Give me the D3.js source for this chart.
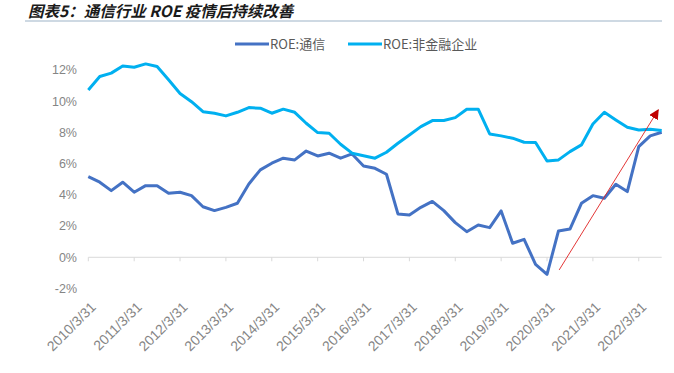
<!DOCTYPE html>
<html>
<head>
<meta charset="utf-8">
<script src="https://cdn.jsdelivr.net/npm/d3@7"></script>
<style>
  body { margin: 0; background: #fff; }
  .ylab text, .xlab text { fill: #858585; font-family: "Liberation Sans", Arial, sans-serif; }
</style>
</head>
<body>
<div id="chart"></div>
<script>
// quarterly ROE, 2010Q1 ~ 2022Q3 (%)
const quarters = [];
for (let y = 2010; y <= 2022; y++) {
  ["3/31","6/30","9/30","12/31"].forEach((q)=>{ quarters.push(y + "/" + q); });
}
quarters.length = 51;

const roeTelecom = [5.17,4.81,4.27,4.81,4.17,4.59,4.59,4.10,4.17,3.95,3.24,2.99,3.20,3.46,4.70,5.60,
  6.03,6.35,6.24,6.81,6.49,6.67,6.35,6.62,5.85,5.70,5.32,2.78,2.71,3.20,3.58,2.99,
  2.22,1.64,2.07,1.90,2.97,0.90,1.15,-0.45,-1.09,1.69,1.81,3.46,3.95,3.78,4.68,4.21,
  7.09,7.78,8.01];
const roeNonFin = [10.72,11.58,11.80,12.26,12.18,12.39,12.22,11.37,10.50,9.97,9.33,9.23,9.06,9.29,9.59,9.55,
  9.23,9.49,9.29,8.59,7.99,7.95,7.24,6.67,6.51,6.35,6.73,7.31,7.84,8.37,8.76,8.76,
  8.95,9.49,9.49,7.90,7.78,7.63,7.37,7.35,6.17,6.24,6.77,7.20,8.54,9.29,8.80,8.33,
  8.16,8.20,8.12];
const yTicks = [-2,0,2,4,6,8,10,12];
const seriesNames = ["ROE:通信","ROE:非金融企业"];
const seriesColors = ["#4472c4","#00b0f0"];
// trend arrow in data units: [category index, ROE %]
const arrowFrom = [41.06,-0.81], arrowTo = [49.7,9.44];

const W = 674, H = 373;
const svg = d3.select("#chart").append("svg").attr("width",W).attr("height",H);

// title
svg.append("text").attr("x",28).attr("y",17)
  .attr("font-family","'Noto Sans CJK SC', sans-serif").attr("font-size",15.5)
  .attr("font-weight","bold").attr("font-style","italic").attr("fill","#1a1a1a")
  .text("图表5：通信行业 ROE 疫情后持续改善");
svg.append("line").attr("x1",25).attr("x2",662).attr("y1",21).attr("y2",21)
  .attr("stroke","#9db3c8").attr("stroke-width",1.2);

const x = d3.scaleLinear().domain([0,quarters.length-1]).range([88.3,661.7]);
const y = d3.scaleLinear().domain([-2,12]).range([288.5,70]);

// y labels
svg.append("g").attr("class","ylab").selectAll("text").data(yTicks).enter().append("text")
  .attr("x",77).attr("y",(d)=> y(d)).attr("dy","0.35em").attr("text-anchor","end")
  .attr("font-size",12.5).text((d)=> d + "%");

// category axis on 0%
svg.append("line").attr("x1",x(0)).attr("x2",x(quarters.length-1)).attr("y1",y(0)).attr("y2",y(0))
  .attr("stroke","#d9d9d9").attr("stroke-width",1);
const tickIdx = d3.range(0,quarters.length,4);
svg.append("g").selectAll("line").data(tickIdx).enter().append("line")
  .attr("x1",(d)=> x(d)).attr("x2",(d)=> x(d)).attr("y1",y(0)).attr("y2",y(0)+4)
  .attr("stroke","#d9d9d9");
svg.append("g").attr("class","xlab").selectAll("text").data(tickIdx).enter().append("text")
  .attr("transform",(d)=> "translate(" + (x(d)+5) + "," + (y(-2)+16) + ") rotate(-45)")
  .attr("text-anchor","end").attr("dy","0.35em").attr("font-size",14)
  .text((d)=> quarters[d]);

// lines
const line = d3.line().x((d,i)=> x(i)).y((d)=> y(d));
[roeTelecom,roeNonFin].forEach((s,k)=>{
  svg.append("path").datum(s).attr("fill","none").attr("stroke",seriesColors[k])
    .attr("stroke-width",3).attr("stroke-linejoin","round").attr("d",line);
});

// legend
const legX = [235,348];
seriesNames.forEach((n,k)=>{
  svg.append("line").attr("x1",legX[k]).attr("x2",legX[k]+34).attr("y1",44).attr("y2",44)
    .attr("stroke",seriesColors[k]).attr("stroke-width",3);
  svg.append("text").attr("x",legX[k]+35).attr("y",44).attr("dy","0.35em")
    .attr("font-family","'Noto Sans CJK SC', sans-serif").attr("font-size",13).attr("fill","#595959")
    .text(n);
});

// arrow
svg.append("defs").append("marker").attr("id","arr").attr("viewBox","0 0 10 10")
  .attr("refX",9).attr("refY",5).attr("markerWidth",10).attr("markerHeight",10)
  .attr("markerUnits","userSpaceOnUse").attr("orient","auto")
  .append("path").attr("d","M0,0L10,5L0,10z").attr("fill","#c00000");
svg.append("line").attr("x1",x(arrowFrom[0])).attr("y1",y(arrowFrom[1]))
  .attr("x2",x(arrowTo[0])).attr("y2",y(arrowTo[1]))
  .attr("stroke","#e02020").attr("stroke-width",0.9).attr("marker-end","url(#arr)");
</script>
</body>
</html>
